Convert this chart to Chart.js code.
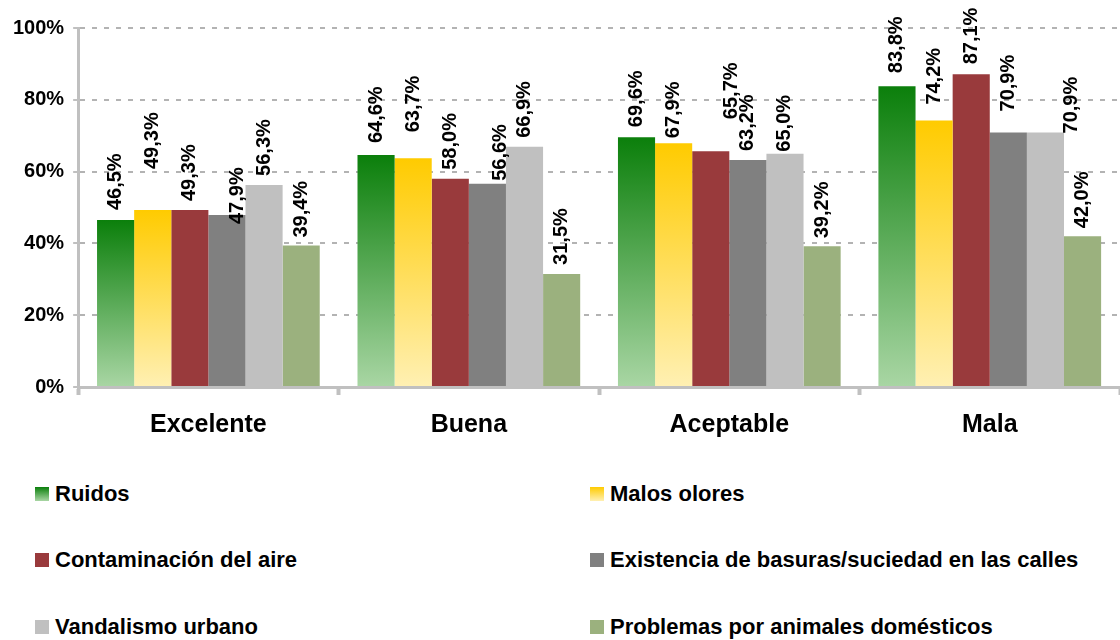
<!DOCTYPE html>
<html>
<head>
<meta charset="utf-8">
<script src="https://cdn.jsdelivr.net/npm/chart.js@4.4.0/dist/chart.umd.min.js"></script>
<style>
    body { margin: 0; background: #fff; font-family: "Liberation Sans", Arial, sans-serif; }
    #wrap { position: relative; width: 1120px; height: 640px; overflow: hidden; }
    #chartBox { position: absolute; left: 0; top: 0; width: 1120px; height: 467px; }
    .leg { position: absolute; display: flex; align-items: center; white-space: nowrap;
           font-weight: bold; font-size: 22px; line-height: 24px; color: #000; }
    .sw { width: 14px; height: 14px; margin-right: 6px; flex: none; }
</style>
</head>
<body>
<div id="wrap">
    <div id="chartBox"><canvas id="chart"></canvas></div>
    <div id="legend"></div>
</div>
<script>
// datos
const categories = ["Excelente", "Buena", "Aceptable", "Mala"];
const seriesNames = [
    "Ruidos",
    "Malos olores",
    "Contaminación del aire",
    "Existencia de basuras/suciedad en las calles",
    "Vandalismo urbano",
    "Problemas por animales domésticos"
];
const ruidos        = [46.5, 64.6, 69.6, 83.8];
const malosOlores   = [49.3, 63.7, 67.9, 74.2];
const contaminacion = [49.3, 58.0, 65.7, 87.1];
const basuras       = [47.9, 56.6, 63.2, 70.9];
const vandalismo    = [56.3, 66.9, 65.0, 70.9];
const animales      = [39.4, 31.5, 39.2, 42.0];
const yTicks = [0, 20, 40, 60, 80, 100];

// colores (arriba, abajo) - los dos primeros con degradado
const colors = [
    ["#0b7f0b", "#a9d6a4"],
    ["#ffcb00", "#fff0b3"],
    ["#993a3c", "#993a3c"],
    ["#808080", "#808080"],
    ["#c0c0c0", "#c0c0c0"],
    ["#9bb17e", "#9bb17e"]
];

// desplazamiento de etiquetas como en el original [dx, hueco sobre la barra]
const labelPos = [
    [[0, 10], [0, 12], [0, 10], [0, 13]],
    [[0, 41], [0, 26], [0, 5], [0, 16]],
    [[0, 9], [0, 9], [21, 32], [0, 10]],
    [[11, -9], [13, 3], [0, 9], [0, 21]],
    [[0, 9], [0, 9], [0, 2], [26, -1]],
    [[0, 8], [0, 9], [0, 8], [0, 8]]
];

const FONT = '"Liberation Sans", Arial, sans-serif';
Chart.defaults.font.family = FONT;
Chart.defaults.color = "#000";

function barFill(top, bottom) {
    if (top === bottom) return top;
    return function (ctx) {
        const chart = ctx.chart;
        const y = chart.scales && chart.scales.y;
        if (!y || ctx.type !== "data") return top;
        const yTop = y.getPixelForValue(ctx.raw);
        const yBase = y.getPixelForValue(0);
        if (!isFinite(yTop) || !isFinite(yBase)) return top;
        const g = chart.ctx.createLinearGradient(0, yTop, 0, yBase);
        g.addColorStop(0, top);
        g.addColorStop(1, bottom);
        return g;
    };
}

const seriesData = [ruidos, malosOlores, contaminacion, basuras, vandalismo, animales];

const datasets = seriesData.map((d, i) => ({
    label: seriesNames[i],
    data: d,
    backgroundColor: barFill(colors[i][0], colors[i][1]),
    borderWidth: 0,
    categoryPercentage: 0.855,
    barPercentage: 1.0
}));

// etiquetas verticales sobre las barras
const barLabels = {
    id: "barLabels",
    afterDatasetsDraw(chart) {
        const c = chart.ctx;
        c.save();
        c.font = "bold 20px " + FONT;
        c.fillStyle = "#000";
        c.textAlign = "left";
        c.textBaseline = "middle";
        chart.data.datasets.forEach((ds, i) => {
            chart.getDatasetMeta(i).data.forEach((bar, j) => {
                const txt = ds.data[j].toFixed(1).replace(".", ",") + "%";
                const p = labelPos[i][j];
                c.save();
                c.translate(bar.x + p[0], bar.y - p[1]);
                c.rotate(-Math.PI / 2);
                c.fillText(txt, 0, 0);
                c.restore();
            });
        });
        c.restore();
    }
};

new Chart(document.getElementById("chart"), {
    type: "bar",
    data: { labels: categories, datasets: datasets },
    options: {
        responsive: true,
        maintainAspectRatio: false,
        animation: false,
        layout: { padding: { top: 28, left: 4, right: 0, bottom: 12 } },
        plugins: {
            legend: { display: false },
            tooltip: { enabled: false }
        },
        scales: {
            x: {
                grid: {
                    offset: true,
                    drawOnChartArea: false,
                    drawTicks: true,
                    tickLength: 8,
                    tickColor: "#c0c0c0",
                    tickWidth: 4
                },
                border: { color: "#c0c0c0", width: 3 },
                ticks: {
                    padding: 15,
                    font: { size: 25, weight: "bold" }
                }
            },
            y: {
                min: 0,
                max: 100,
                afterBuildTicks(axis) {
                    axis.ticks = yTicks.map(v => ({ value: v }));
                },
                grid: {
                    color: ctx => (ctx.tick && ctx.tick.value === 0) ? "rgba(0,0,0,0)" : "#b3b3b3",
                    lineWidth: 2,
                    tickLength: 5,
                    tickColor: "#c0c0c0",
                    tickWidth: 2
                },
                border: { color: "#c0c0c0", width: 3, dash: [5, 7] },
                ticks: {
                    padding: 9,
                    font: { size: 20, weight: "bold" },
                    callback: v => v + "%"
                }
            }
        }
    },
    plugins: [barLabels]
});

// leyenda en dos columnas
const legend = document.getElementById("legend");
const legCols = [35, 590];
const legRows = [494, 560, 627];
seriesNames.forEach((name, i) => {
    const item = document.createElement("div");
    item.className = "leg";
    item.style.left = legCols[i % 2] + "px";
    item.style.top = (legRows[Math.floor(i / 2)] - 12) + "px";
    const sw = document.createElement("span");
    sw.className = "sw";
    sw.style.background = "linear-gradient(" + colors[i][0] + "," + colors[i][1] + ")";
    item.appendChild(sw);
    item.appendChild(document.createTextNode(name));
    legend.appendChild(item);
});
</script>
</body>
</html>
